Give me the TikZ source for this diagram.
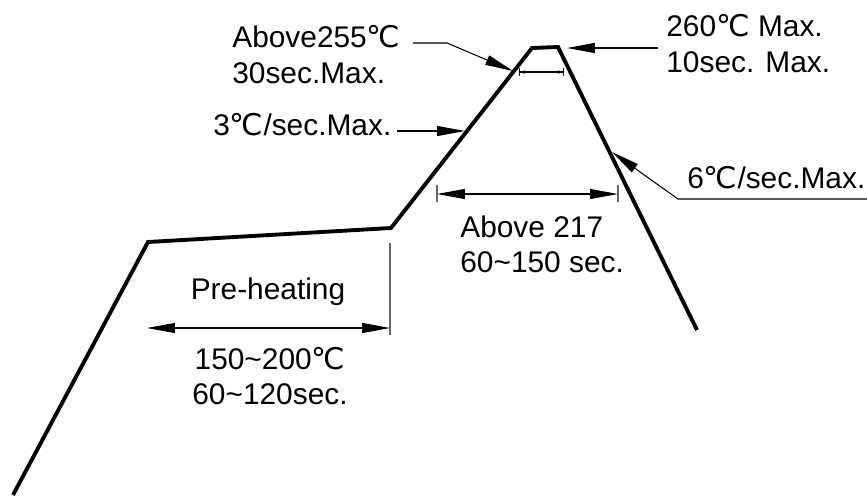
\documentclass[tikz,border=0pt]{standalone}
\usepackage{fontspec}
\setmainfont{Liberation Sans}
\newfontfamily\symfont{DejaVu Sans}
\usetikzlibrary{arrows.meta}
\newcommand{\degc}{{\symfont ℃}}
\begin{document}
\begin{tikzpicture}[x=0.02cm,y=-0.02cm,>={Triangle[length=0.56cm,width=0.2cm]}]
            \useasboundingbox (0,0) rectangle (867,495);
            \tikzset{profile/.style={line width=2.2pt,line join=miter},
                lead/.style={line width=0.6pt},
                tick/.style={line width=0.6pt,gray!80!black}}
            \begin{scope}[every node/.style={font=\fontsize{17}{20}\selectfont,inner sep=0pt,align=left}]
                \node[anchor=west] (t1) at (232, 54.5) {Above255\degc\\30sec.Max.};
                \node[anchor=west] (t2) at (213, 125) {3\degc/sec.Max.};
                \node[anchor=west] (t3) at (666, 43.5) {260\degc{} Max.\\10sec. Max.};
                \node[anchor=west] (t4) at (687, 178) {6\degc/sec.Max.};
                \node[anchor=west] (t5) at (460, 244) {Above 217\\60\textasciitilde150 sec.};
                \node (t6) at (268, 292) {Pre-heating};
                \node[align=center] (t7) at (270, 376) {150\textasciitilde200\degc\\60\textasciitilde120sec.};
            \end{scope}

            % reflow profile
            \coordinate (p0) at (13, 495);
            \coordinate (p1) at (148, 242);
            \coordinate (p2) at (391, 228);
            \coordinate (p3) at (532, 48);
            \coordinate (p4) at (558, 47);
            \coordinate (p5) at (697, 330);
            \draw[profile] (p0)--(p1)--(p2)--(p3)--(p4)--(p5);

            % leaders
            \coordinate (a1) at (413, 43);
            \coordinate (a2) at (447, 43);
            \coordinate (a3) at (513, 71);
            \draw[lead,->] (a1)--(a2)--(a3);
            \coordinate (b1) at (397, 131);
            \coordinate (b2) at (465, 131);
            \draw[lead,->] (b1)--(b2);
            \coordinate (c1) at (658, 48);
            \coordinate (c2) at (567, 48);
            \draw[lead,->] (c1)--(c2);
            \coordinate (d1) at (867, 199);
            \coordinate (d2) at (678, 199);
            \coordinate (d3) at (612, 152);
            \draw[lead,->] (d1)--(d2)--(d3);

            % dimensions
            \coordinate (e1) at (519, 72);
            \coordinate (e2) at (564, 72);
            \draw[lead,{Bar[width=4pt]Stealth[length=3pt,width=2pt]}-{Stealth[length=3pt,width=2pt]Bar[width=4pt]}] (e1)--(e2);
            \coordinate (f1) at (437, 194);
            \coordinate (f2) at (618, 194);
            \draw[lead,<->] (f1)--(f2);
            \draw[tick] (437, 185)--(437, 202);
            \draw[tick] (618, 185)--(618, 202);
            \coordinate (g1) at (147, 328);
            \coordinate (g2) at (390, 328);
            \draw[lead,<->] (g1)--(g2);
            \draw[tick] (390, 243)--(390, 335);
        \end{tikzpicture}
\end{document}
